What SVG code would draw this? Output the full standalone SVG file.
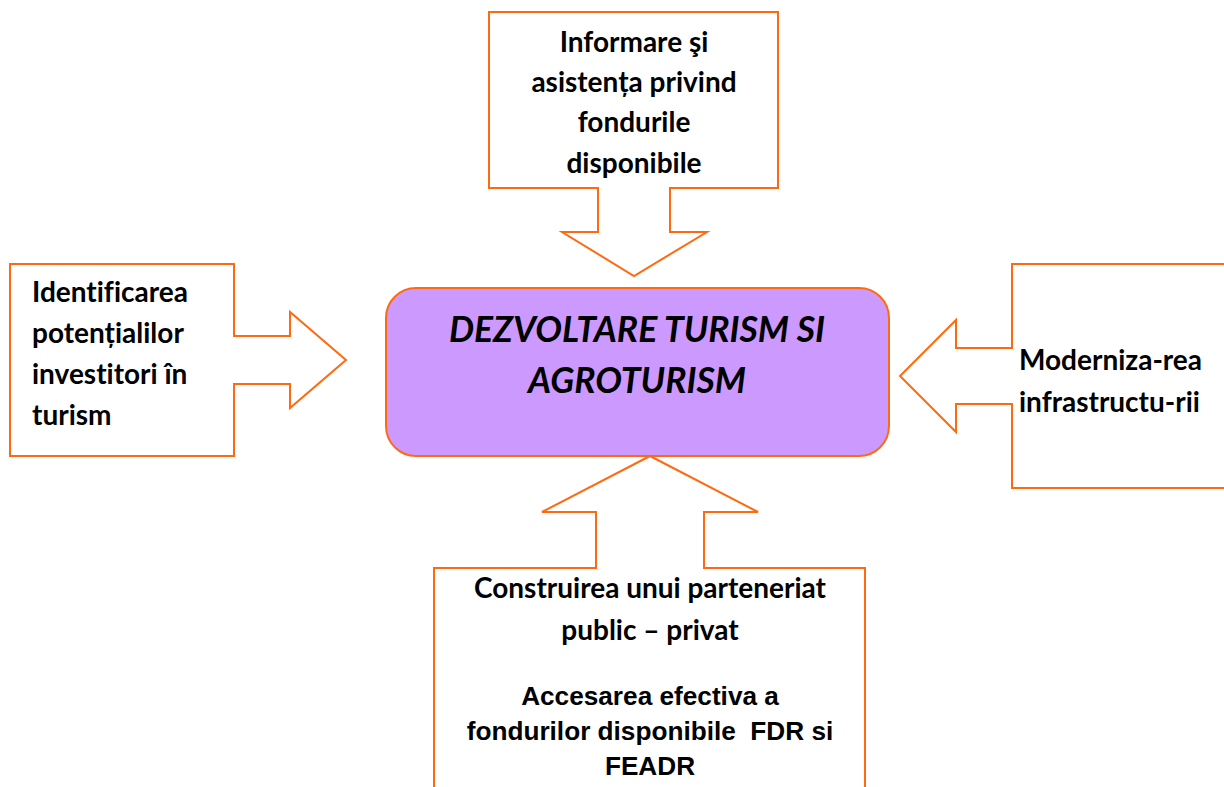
<svg xmlns="http://www.w3.org/2000/svg" width="1224" height="787" viewBox="0 0 1224 787">
<style>
.co{fill:#fff;stroke:#FF6A10;stroke-width:2;stroke-linejoin:miter}
.t{font-family:Lato,"Open Sans","Noto Sans",sans-serif;font-weight:bold;font-size:28px;fill:#000;font-variant-ligatures:none}
.c{text-anchor:middle}
.a{font-family:"Liberation Sans",Arial,sans-serif;font-weight:bold;font-size:26.2px;fill:#000;text-anchor:middle}
.m{font-family:Lato,"Open Sans","Noto Sans",sans-serif;font-weight:bold;font-style:italic;font-size:35.5px;fill:#000;text-anchor:middle;font-variant-ligatures:none}
</style>
<rect width="1224" height="787" fill="#fff"/>
<g id="connectors">
<g id="top">
<polygon class="co" points="489,12 778,12 778,188 670,188 670,232 707,232 634,276 562,232 598,232 598,188 489,188"/>
<text class="t c" x="634" y="52">Informare şi</text>
<text class="t c" x="634" y="92">asistența privind</text>
<text class="t c" x="634" y="132">fondurile</text>
<text class="t c" x="634" y="173">disponibile</text>
</g>
<g id="left">
<polygon class="co" points="10,264 234,264 234,336 290,336 290,312 346,360 290,408 290,384 234,384 234,456 10,456"/>
<text class="t" x="32" y="302">Identificarea</text>
<text class="t" x="32" y="343">potențialilor</text>
<text class="t" x="32" y="384">investitori în</text>
<text class="t" x="32" y="425">turism</text>
</g>
<g id="right">
<polygon class="co" points="1240,264 1012,264 1012,348 956,348 956,320 900,376 956,432 956,404 1012,404 1012,488 1240,488"/>
<text class="t" x="1019" y="370">Moderniza-rea</text>
<text class="t" x="1019" y="412">infrastructu-rii</text>
</g>
<g id="bottom">
<polygon class="co" points="434,800 434,568 596,568 596,512 542,512 650,456 758,512 704,512 704,568 865,568 865,800"/>
<text class="t c" x="650" y="598">Construirea unui parteneriat</text>
<text class="t c" x="650" y="640">public – privat</text>
<text class="a" x="650" y="705">Accesarea efectiva a</text>
<text class="a" x="650" y="740" xml:space="preserve">fondurilor disponibile  FDR si</text>
<text class="a" x="650" y="775">FEADR</text>
</g>
</g>
<g id="center">
<rect x="386" y="288" width="503" height="168" rx="30" ry="30" fill="#CC99FF" stroke="#FF6A10" stroke-width="2"/>
<text class="m" x="637" y="342">DEZVOLTARE TURISM SI</text>
<text class="m" x="637" y="393">AGROTURISM</text>
</g>
</svg>
